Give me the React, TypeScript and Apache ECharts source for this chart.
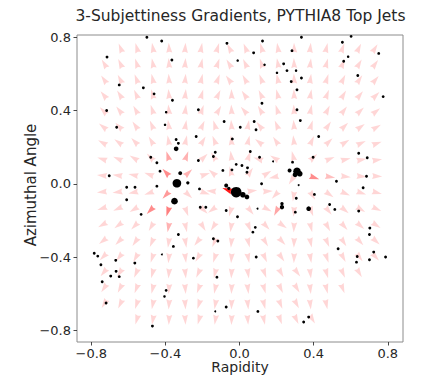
import React, { useEffect, useRef } from "react";
import * as echarts from "echarts";

const FONT = "DejaVu Sans";
const TITLE = "3-Subjettiness Gradients, PYTHIA8 Top Jets";
const X_LABEL = "Rapidity";
const Y_LABEL = "Azimuthal Angle";
const TICKS = [-0.8, -0.4, 0, 0.4, 0.8];

// Sample points of the gradient field (rapidity columns, azimuth rows from top).
const GRID_RAPIDITY = [-0.716, -0.632, -0.547, -0.463, -0.379, -0.295, -0.211, -0.126, -0.042, 0.042, 0.126, 0.211, 0.295, 0.379, 0.463, 0.547, 0.632, 0.716];
const GRID_PHI = [0.716, 0.632, 0.547, 0.463, 0.379, 0.295, 0.211, 0.126, 0.042, -0.042, -0.126, -0.211, -0.295, -0.379, -0.463, -0.547, -0.632, -0.716];

// Gradient direction at each grid point, degrees; null where no arrow is drawn.
const GRADIENT_ANGLE: (number | null)[][] = [
  [null, 112, 106, 100, 93, 86, 80, 73, 118, 112, 106, 99, 91, 84, 77, 70, 64, 58],
  [121, 115, 108, 101, 94, 86, 78, 71, 122, 115, 108, 100, 92, 83, 75, 67, 60, 54],
  [125, 118, 111, 103, 94, 85, 77, 69, 126, 119, 111, 102, 92, 82, 72, 64, 56, 50],
  [129, 122, 114, 105, 95, 84, 74, 65, 92, 124, 115, 104, 92, 80, 69, 59, 51, 44],
  [135, 128, 119, 108, 96, 83, 71, 60, 93, 131, 120, 108, 93, 78, 64, 53, 44, 38],
  [142, 135, 125, 113, 98, 81, 66, 107, 94, 80, 129, 113, 94, 73, 56, 44, 36, 30],
  [151, 144, 134, 120, 100, 78, 59, 112, 95, 77, 142, 124, 96, 65, 44, 32, 24, 20],
  [162, 157, 149, 134, 107, 70, 44, 121, 97, 71, 162, 148, 104, 42, 22, 14, 11, 9],
  [174, 172, 168, 161, 133, 43, 18, 139, 103, 56, 32, 193, 237, -18, -9, -6, -4, -3],
  [186, 188, 192, 199, 227, -43, -18, 176, 160, 7, 3, 227, 262, -57, -35, -24, -18, -15],
  [198, 203, 211, 226, 253, -70, -44, 216, 254, -51, -28, 243, 266, -70, -51, -39, -31, -25],
  [209, 216, 226, 240, 260, -78, -59, 237, 262, -69, -48, -35, 267, -76, -61, -49, -41, -34],
  [218, 225, 235, 247, 262, -81, 232, 247, 265, -76, -59, -47, 268, -79, -67, -57, -48, -42],
  [225, 232, 241, 252, 264, -83, 240, 252, 266, -79, -66, -55, 268, -81, -71, -62, -54, -48],
  [231, 238, 246, 255, 265, -84, 245, 256, 267, -81, -70, -61, -53, -83, -74, -66, -59, null],
  [236, 242, 249, 257, 266, -85, 249, 258, 268, -83, -74, -65, -58, -84, -76, -69, null, null],
  [239, 245, 252, 259, 266, -86, 252, 260, 268, -84, -76, -68, -62, -84, -78, null, null, null],
  [null, null, 254, 260, 267, -86, 254, 261, 268, -85, -78, -71, -65, -59, null, null, null, null],
];

// Arrows with a stronger gradient: [row, column, opacity]; all others use the base opacity.
const BASE_OPACITY = 0.16;
const STRONG_ARROWS: [number, number, number][] = [
  [7, 4, 0.35], [7, 5, 0.3], [8, 4, 0.45], [8, 5, 0.3], [9, 4, 0.4],
  [10, 3, 0.45], [10, 4, 0.5], [11, 4, 0.3], [9, 8, 0.9],
  [8, 13, 0.45], [8, 14, 0.25], [10, 11, 0.35],
];

// Jet constituents: rapidity, azimuth and relative transverse momentum.
const PARTICLE_RAP = [
  -0.5, -0.42, -0.068, 0.124, 0.334, 0.602, 0.555, -0.715, -0.365, 0.076,
  0.283, -0.01, 0.238, 0.135, 0.751, 0.562, 0.586, -0.649, -0.519, -0.461,
  -0.362, -0.717, -0.396, -0.222, -0.663, -0.402, -0.083, -0.234, -0.342, -0.33,
  -0.342, -0.039, -0.131, -0.479, -0.446, -0.222, -0.141, -0.018, -0.041, -0.09,
  -0.429, -0.32, -0.703, -0.338, -0.279, -0.609, -0.564, -0.446, -0.072, -0.216,
  -0.058, -0.018, 0.018, 0.04, -0.609, -0.351, -0.212, -0.182, -0.531, -0.072,
  -0.011, -0.33, -0.141, -0.117, -0.357, -0.784, -0.765, -0.419, -0.249, -0.668,
  -0.565, -0.748, -0.666, -0.695, -0.649, -0.122, -0.741, -0.396, -0.405, -0.72,
  -0.072, -0.131, -0.47, 0.202, 0.256, 0.305, 0.334, 0.279, 0.638, 0.31,
  0.775, 0.121, 0.31, 0.079, 0.328, 0.089, 0.004, 0.427, 0.058, 0.108,
  0.181, 0.397, 0.643, 0.689, 0.013, 0.043, 0.04, 0.286, 0.27, 0.31,
  0.325, 0.3, 0.523, 0.685, 0.119, 0.319, 0.667, 0.097, 0.229, 0.229,
  0.301, 0.306, 0.404, 0.373, 0.486, 0.514, 0.643, 0.085, 0.072, 0.703,
  0.701, 0.532, 0.09, 0.635, 0.631, 0.724, 0.701, 0.788, 0.099, 0.373,
  0.346,
];
const PARTICLE_PHI = [
  0.8, 0.78, 0.767, 0.78, 0.8, 0.805, 0.773, 0.692, 0.676, 0.715,
  0.727, 0.673, 0.655, 0.65, 0.712, 0.669, 0.694, 0.54, 0.524, 0.491,
  0.456, 0.4, 0.391, 0.404, 0.309, 0.322, 0.34, 0.258, 0.242, 0.221,
  0.191, 0.245, 0.172, 0.145, 0.115, 0.127, 0.149, 0.106, 0.076, 0.073,
  0.069, 0.058, 0.044, 0.003, 0.005, -0.019, -0.019, -0.013, -0.009, -0.028,
  -0.025, -0.046, -0.06, -0.072, -0.087, -0.095, -0.128, -0.128, -0.167, -0.146,
  -0.18, -0.277, -0.3, -0.313, -0.342, -0.379, -0.395, -0.386, -0.406, -0.418,
  -0.433, -0.442, -0.478, -0.504, -0.507, -0.51, -0.535, -0.582, -0.615, -0.651,
  -0.673, -0.697, -0.777, 0.606, 0.618, 0.618, 0.578, 0.558, 0.591, 0.513,
  0.476, 0.44, 0.404, 0.34, 0.345, 0.295, 0.309, 0.258, 0.176, 0.145,
  0.122, 0.145, 0.167, 0.142, 0.1, 0.087, 0.063, 0.118, 0.073, 0.068,
  0.055, 0.05, 0.014, 0.041, 0.0, -0.007, -0.022, -0.136, -0.109, -0.128,
  -0.155, -0.079, -0.058, -0.136, -0.113, -0.14, -0.149, -0.238, -0.264, -0.242,
  -0.277, -0.355, -0.4, -0.397, -0.428, -0.373, -0.415, -0.4, -0.697, -0.728,
  -0.755,
];
const PARTICLE_PT = [
  1.3, 1.3, 1.3, 1.3, 1.3, 1.3, 1.3, 1.3, 1.3, 1.3,
  1.3, 1.0, 1.3, 1.0, 1.3, 1.3, 1.0, 1.3, 1.3, 1.3,
  1.3, 1.3, 1.0, 1.3, 1.3, 1.0, 1.3, 1.3, 1.3, 1.3,
  3.5, 1.3, 1.3, 1.3, 1.3, 1.3, 1.3, 1.3, 1.3, 1.3,
  1.3, 2.5, 1.3, 12, 1.8, 1.3, 1.3, 1.3, 2.5, 1.3,
  1.8, 18, 5, 3.5, 1.3, 7, 1.3, 1.3, 1.3, 1.3,
  1.3, 1.3, 1.3, 1.3, 1.3, 1.3, 1.3, 0.6, 1.3, 1.3,
  1.3, 1.3, 1.3, 1.3, 1.3, 1.3, 1.3, 1.3, 1.0, 1.3,
  1.3, 0.6, 1.3, 1.0, 1.3, 1.0, 1.3, 1.3, 1.3, 1.3,
  1.3, 1.3, 1.3, 1.3, 1.3, 1.3, 1.3, 1.3, 1.3, 1.3,
  0.6, 1.3, 1.3, 1.3, 1.3, 1.3, 1.3, 1.3, 2.5, 9,
  5, 4, 1.3, 1.3, 1.3, 0.6, 1.3, 0.6, 1.8, 3,
  1.3, 1.3, 1.3, 3.5, 1.3, 1.3, 1.3, 1.3, 1.3, 1.3,
  1.3, 1.3, 1.3, 1.3, 1.3, 1.3, 1.3, 1.3, 1.3, 1.3,
  1.3,
];

function buildArrows() {
  const strong = new Map<string, number>();
  STRONG_ARROWS.forEach(([r, c, o]) => strong.set(r + ":" + c, o));
  const out: number[][] = [];
  GRADIENT_ANGLE.forEach((row, r) => {
    row.forEach((angle, c) => {
      if (angle === null) return;
      const o = strong.get(r + ":" + c) ?? BASE_OPACITY;
      out.push([GRID_RAPIDITY[c], GRID_PHI[r], angle, o]);
    });
  });
  return out;
}

const tickFormatter = (v: number) => v.toFixed(1).replace("-", "\u2212");

export default function App() {
  const ref = useRef<HTMLDivElement>(null);

  useEffect(() => {
    document.body.style.margin = "0";
    const chart = echarts.init(ref.current!, null, { renderer: "svg" });

    const particles = PARTICLE_RAP.map((x, i) => [x, PARTICLE_PHI[i], PARTICLE_PT[i]]);

    const axisCommon = {
      type: "value" as const,
      splitLine: { show: false },
      axisLine: { show: false, onZero: false },
      axisTick: {
        show: true,
        inside: false,
        length: 3.5,
        customValues: TICKS,
        lineStyle: { color: "#333", width: 0.9 },
      },
      axisLabel: {
        customValues: TICKS,
        formatter: tickFormatter,
        fontFamily: FONT,
        fontSize: 13,
        color: "#262626",
      },
    };

    chart.setOption({
      animation: false,
      textStyle: { fontFamily: FONT },
      grid: {
        left: 77,
        right: 30,
        top: 35,
        bottom: 38,
        show: true,
        borderColor: "#8c8c8c",
        borderWidth: 1,
        backgroundColor: "transparent",
      },
      xAxis: {
        ...axisCommon,
        min: -0.877,
        max: 0.882,
        axisLabel: { ...axisCommon.axisLabel, margin: 4.5 },
      },
      yAxis: {
        ...axisCommon,
        min: -0.864,
        max: 0.8125,
        axisLabel: { ...axisCommon.axisLabel, margin: 6 },
      },
      graphic: [
        {
          type: "text",
          x: 240.5,
          y: 16,
          style: {
            text: TITLE,
            font: `15.5px "${FONT}"`,
            fill: "#262626",
            align: "center",
            verticalAlign: "middle",
          },
        },
        {
          type: "text",
          x: 240,
          y: 360,
          style: {
            text: X_LABEL,
            font: `14px "${FONT}"`,
            fill: "#262626",
            align: "center",
            verticalAlign: "top",
          },
        },
        {
          type: "text",
          x: 31,
          y: 185,
          rotation: Math.PI / 2,
          style: {
            text: Y_LABEL,
            font: `15px "${FONT}"`,
            fill: "#262626",
            align: "center",
            verticalAlign: "middle",
          },
        },
      ],
      series: [
        {
          type: "custom",
          coordinateSystem: "cartesian2d",
          silent: true,
          z: 1,
          encode: { x: 0, y: 1 },
          data: buildArrows(),
          renderItem: (_params: any, api: any) => {
            const p = api.coord([api.value(0), api.value(1)]);
            const a = (api.value(2) * Math.PI) / 180;
            const o = api.value(3);
            const ux = Math.cos(a);
            const uy = -Math.sin(a);
            const nx = -uy;
            const ny = ux;
            const L = 10;
            const H = 3;
            const notch = 1;
            return {
              type: "polygon",
              shape: {
                points: [
                  [p[0] + nx * H, p[1] + ny * H],
                  [p[0] + ux * notch, p[1] + uy * notch],
                  [p[0] - nx * H, p[1] - ny * H],
                  [p[0] + ux * L, p[1] + uy * L],
                ],
              },
              style: { fill: `rgba(255,0,0,${o})` },
            };
          },
        },
        {
          type: "scatter",
          silent: true,
          z: 3,
          data: particles,
          symbol: "circle",
          symbolSize: (v: number[]) => 2.5 * Math.sqrt(v[2]),
          itemStyle: { color: "#000", borderWidth: 0, opacity: 1 },
        },
      ],
    });

    return () => chart.dispose();
  }, []);

  return <div ref={ref} style={{ width: 433, height: 380 }} />;
}
